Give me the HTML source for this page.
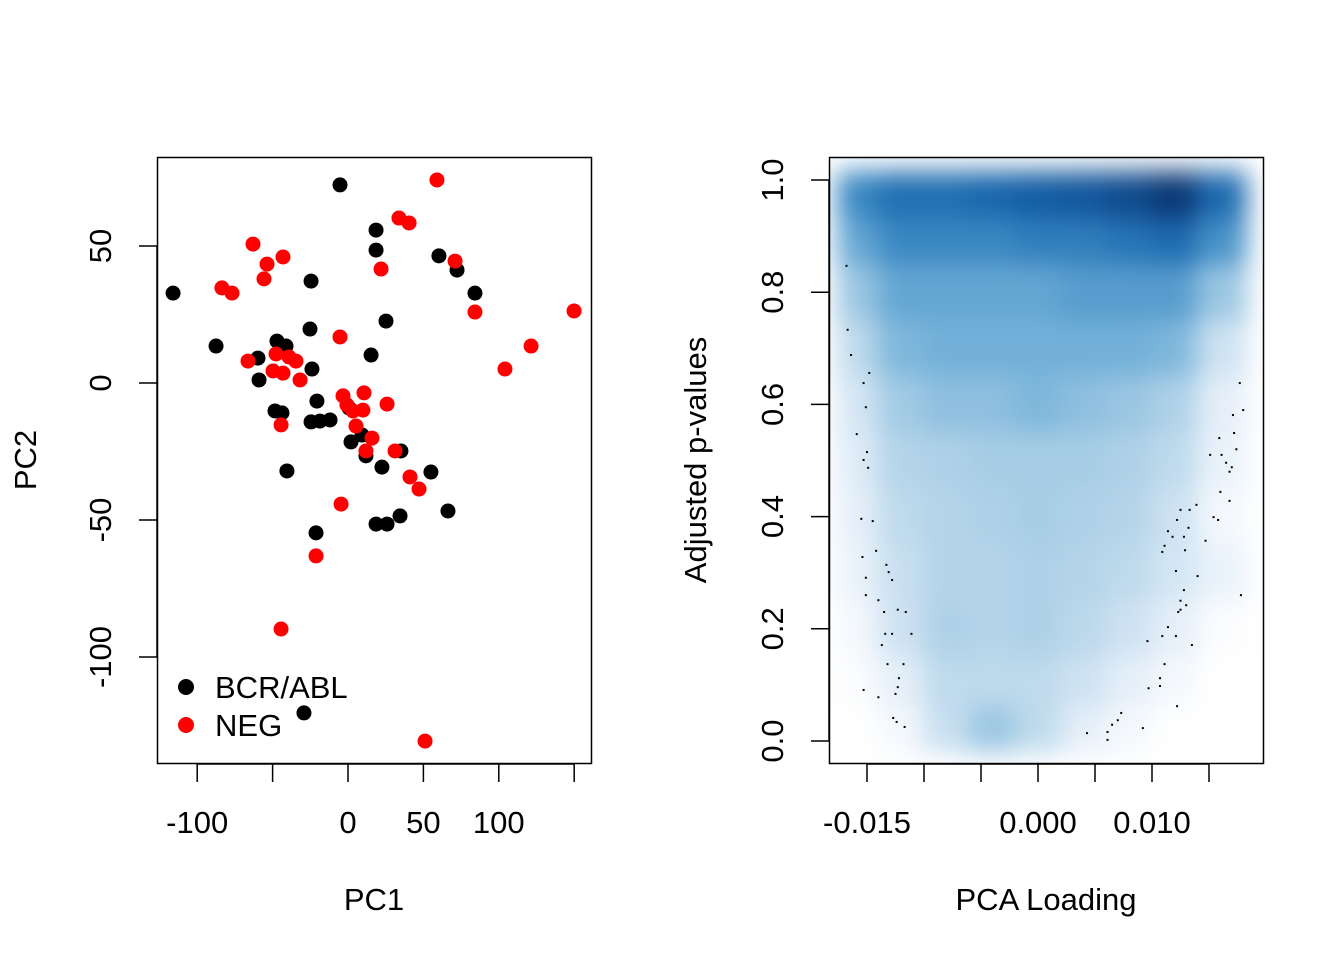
<!DOCTYPE html>
<html><head><meta charset="utf-8"><style>
html,body{margin:0;padding:0;background:#fff;}
svg{display:block;font-family:"Liberation Sans",Arial,sans-serif;}
</style></head><body>
<svg id="fig" width="1344" height="960" viewBox="0 0 1344 960" xmlns="http://www.w3.org/2000/svg">
<defs>
<clipPath id="clipR"><rect x="830" y="158" width="432" height="604"/></clipPath>
<filter id="blur" x="-20%" y="-20%" width="140%" height="140%" color-interpolation-filters="sRGB"><feGaussianBlur stdDeviation="13"/></filter>
</defs>
</svg>
<script>
// ---------- Left chart data ----------
const xTicksL = [-100,-50,0,50,100,150];
const xTickLabelsL = ["-100","","0","50","100",""];
const yTicksL = [-100,-50,0,50];
const yTickLabelsL = ["-100","-50","0","50"];
const bcrX = [-116,-5.3,18.6,18.6,60.3,72.3,84.2,-24.5,25.2,-25.2,-87.5,-47.1,-41.1,-59.7,-59,-23.9,15.3,-48.4,-43.8,-20.6,-24.5,-18.6,-11.9,0.7,2,9.3,11.9,22.5,35.1,55,-40.5,-21.2,18.6,25.9,34.5,66.3,-29.2];
const bcrY = [32.8,72.3,55.8,48.5,46.4,41.2,32.8,37.2,22.6,19.7,13.5,15.3,13.5,9.1,1.1,5.1,10.2,-10.2,-10.9,-6.6,-14.2,-13.9,-13.5,-9.1,-21.5,-19,-26.6,-30.7,-24.8,-32.5,-32.1,-54.7,-51.5,-51.5,-48.5,-46.7,-120.4];
const negX = [59,33.8,40.5,71,84.2,149.9,121.4,104.1,-63,-53.7,-43.1,-55.7,-83.6,-76.9,-5.3,21.9,-66.3,-47.7,-39.1,-34.5,-43.1,-49.7,-31.8,-3.3,10.6,-0.7,25.9,3.3,9.9,5.3,15.9,11.9,31.2,41.1,47.1,-44.4,-4.6,-21.2,-44.4,51.1];
const negY = [74.1,60.2,58.4,44.5,25.9,26.3,13.5,5.1,50.7,43.4,46,38,34.7,32.8,16.8,41.6,8,10.6,9.5,8,3.6,4.4,1.1,-4.7,-3.6,-8,-7.7,-10.2,-9.9,-15.7,-20.1,-24.8,-24.8,-34.3,-38.7,-15.3,-44.2,-63.1,-89.8,-130.7];

// ---------- Right chart data ----------
const xTicksR = [-0.015,-0.010,-0.005,0.000,0.005,0.010,0.015];
const xTickLabelsR = ["-0.015","","","0.000","","0.010",""];
const yTicksR = [0,0.2,0.4,0.6,0.8,1.0];
const yTickLabelsR = ["0.0","0.2","0.4","0.6","0.8","1.0"];
const densCols = [-0.016,-0.012,-0.008,-0.004,0,0.004,0.008,0.012,0.016];
const densRows = [0.96,0.9,0.8,0.7,0.6,0.5,0.4,0.3,0.2,0.1,0.02];
const densVals = [
 [0.65,0.78,0.78,0.82,0.86,0.88,0.92,0.98,0.8],
 [0.5,0.65,0.65,0.65,0.7,0.7,0.75,0.8,0.6],
 [0.35,0.5,0.5,0.5,0.5,0.55,0.55,0.55,0.35],
 [0.25,0.42,0.45,0.45,0.45,0.45,0.45,0.42,0.2],
 [0.18,0.33,0.38,0.38,0.42,0.38,0.35,0.3,0.12],
 [0.15,0.28,0.3,0.32,0.32,0.32,0.3,0.25,0.1],
 [0.12,0.25,0.28,0.3,0.32,0.3,0.28,0.2,0.05],
 [0.1,0.22,0.28,0.28,0.3,0.28,0.25,0.18,0.1],
 [0.05,0.2,0.3,0.28,0.3,0.26,0.2,0.12,0.02],
 [0.02,0.12,0.25,0.25,0.25,0.2,0.12,0.05,0],
 [0,0.05,0.22,0.35,0.25,0.12,0.05,0,0]
];
const outLoad = [-0.0168,-0.0167,-0.0164,-0.0153,-0.0148,-0.0151,-0.0159,-0.0150,-0.0153,-0.0149,-0.0155,-0.0145,-0.0154,-0.0142,-0.0151,-0.0133,-0.0131,-0.0128,-0.0151,-0.0140,-0.0123,-0.0116,-0.0135,-0.0134,-0.0128,-0.0111,-0.0137,-0.0132,-0.0118,-0.0122,-0.0123,-0.0125,-0.0140,-0.0153,-0.0127,-0.0124,-0.0117,
 0.0043,0.0061,0.0061,0.0065,0.0070,0.0073,0.0092,0.0097,0.0107,0.0107,0.0111,0.0122,0.0096,0.0109,0.0114,0.0121,0.0135,0.0123,0.0125,0.0130,0.0125,0.0128,0.0140,0.0121,0.0129,0.0109,0.0111,0.0118,0.0114,0.0128,0.0132,0.0122,0.0133,0.0125,0.0139,0.0147,0.0154,0.0158,0.0160,0.0168,0.0168,0.0170,0.0165,0.0161,0.0151,0.0159,0.0172,0.0174,0.0171,0.0180,0.0177,0.0178];
const outP = [0.847,0.733,0.688,0.638,0.656,0.595,0.547,0.515,0.501,0.487,0.396,0.392,0.328,0.339,0.291,0.314,0.301,0.287,0.260,0.251,0.234,0.230,0.230,0.191,0.191,0.191,0.171,0.137,0.137,0.112,0.096,0.084,0.078,0.091,0.041,0.034,0.025,
 0.014,0.016,0.002,0.029,0.037,0.050,0.023,0.094,0.098,0.112,0.137,0.062,0.178,0.187,0.203,0.187,0.171,0.230,0.234,0.242,0.250,0.269,0.294,0.303,0.340,0.337,0.348,0.364,0.374,0.364,0.380,0.394,0.412,0.412,0.421,0.357,0.399,0.394,0.444,0.428,0.480,0.488,0.496,0.510,0.510,0.540,0.549,0.520,0.581,0.590,0.638,0.260];

const NS = "http://www.w3.org/2000/svg";
const svg = document.getElementById('fig');
const FS = 31;
function mk(tag, attrs, parent){ const e=document.createElementNS(NS,tag); for(const k in attrs) e.setAttribute(k,attrs[k]); (parent||svg).appendChild(e); return e; }

// ---------- Left axes ----------
const xL = v => 348 + v*1.508;
const yL = v => 383 - v*2.74;
const gL = mk('g',{});


const boxL = mk('rect',{x:157.5,y:157.5,width:434,height:606,fill:'none',stroke:'#000','stroke-width':1.5},gL);


const axL = mk('path',{d:`M${xL(-100)} 764 H${xL(150)}`,stroke:'#000','stroke-width':1.5,fill:'none'},gL);


xTicksL.forEach((t,i)=>{
  const tk=mk('line',{x1:xL(t),x2:xL(t),y1:764,y2:782,stroke:'#000','stroke-width':1.5},gL);
  
  
  if(xTickLabelsL[i]){
    const tx=mk('text',{x:xL(t),y:833,'font-size':FS,'text-anchor':'middle'},gL); tx.textContent=xTickLabelsL[i];
    
    
  }
});
const ayL = mk('path',{d:`M157 ${yL(-100)} V${yL(50)}`,stroke:'#000','stroke-width':1.5,fill:'none'},gL);


yTicksL.forEach((t,i)=>{
  const tk=mk('line',{x1:139,x2:157,y1:yL(t),y2:yL(t),stroke:'#000','stroke-width':1.5},gL);
  
  
  const tx=mk('text',{x:111,y:yL(t),'font-size':FS,'text-anchor':'middle',transform:`rotate(-90 111 ${yL(t)})`},gL); tx.textContent=yTickLabelsL[i];
  
  
});
const tX1 = mk('text',{x:374,y:910,'font-size':FS,'text-anchor':'middle'},gL); tX1.textContent='PC1';


const tY1 = mk('text',{x:36,y:460,'font-size':FS,'text-anchor':'middle',transform:'rotate(-90 36 460)'},gL); tY1.textContent='PC2';


bcrX.forEach((v,i)=>{
  const c=mk('circle',{cx:xL(v),cy:yL(bcrY[i]),r:7.5,fill:'#000'},gL);
  
  
});
negX.forEach((v,i)=>{
  const c=mk('circle',{cx:xL(v),cy:yL(negY[i]),r:7.5,fill:'#ff0000'},gL);
  
  
});
const lg = mk('g',{},gL);


const l1=mk('circle',{cx:186,cy:687,r:8,fill:'#000'},lg);


const l1t=mk('text',{x:215,y:698,'font-size':FS},lg); l1t.textContent='BCR/ABL';


const l2=mk('circle',{cx:186,cy:725,r:8,fill:'#ff0000'},lg);


const l2t=mk('text',{x:215,y:736,'font-size':FS},lg); l2t.textContent='NEG';



// ---------- Right axes ----------
const xR = v => 1038 + v*11400;
const yR = v => 741 - v*561;
const gR = mk('g',{});


const stops=[[0,[255,255,255]],[0.15,[222,235,247]],[0.3,[174,209,231]],[0.45,[114,176,216]],[0.65,[58,136,194]],[0.85,[20,96,168]],[1,[8,48,107]]];
function col(t){
  t=Math.max(0,Math.min(1,t));
  for(let i=1;i<stops.length;i++){ if(t<=stops[i][0]){ const a=stops[i-1],b=stops[i]; const f=(t-a[0])/(b[0]-a[0]);
    return `rgb(${a[1].map((c,j)=>Math.round(c+(b[1][j]-c)*f)).join(',')})`; } }
  return 'rgb(8,48,107)';
}
const hc = mk('g',{'clip-path':'url(#clipR)'},gR);


const hb = mk('g',{filter:'url(#blur)'},hc);
mk('rect',{x:790,y:120,width:520,height:700,fill:'#fff'},hb);
const colEdges = densCols.map((c,i)=> i===0 ? -0.0176 : (densCols[i-1]+c)/2).concat([0.0183]);
const rowEdges = densRows.map((r,i)=> i===0 ? 1.015 : (densRows[i-1]+r)/2).concat([-0.02]);
densRows.forEach((r,ri)=>{
  densCols.forEach((c,ci)=>{
    const x0=xR(colEdges[ci]), x1=xR(colEdges[ci+1]);
    const y0=yR(rowEdges[ri]), y1=yR(rowEdges[ri+1]);
    const cell=mk('rect',{x:x0-0.5,y:y0-0.5,width:x1-x0+1,height:y1-y0+1,fill:col(densVals[ri][ci])},hb);
    
    
  });
});
outLoad.forEach((v,i)=>{
  const p=mk('rect',{x:xR(v)-1,y:yR(outP[i])-1,width:2,height:2,fill:'#000'},gR);
  
  
});
const boxR = mk('rect',{x:829.5,y:157.5,width:434,height:606,fill:'none',stroke:'#000','stroke-width':1.5},gR);


const axR = mk('path',{d:`M${xR(-0.015)} 764 H${xR(0.015)}`,stroke:'#000','stroke-width':1.5,fill:'none'},gR);


xTicksR.forEach((t,i)=>{
  const tk=mk('line',{x1:xR(t),x2:xR(t),y1:764,y2:782,stroke:'#000','stroke-width':1.5},gR);
  
  
  if(xTickLabelsR[i]){
    const tx=mk('text',{x:xR(t),y:833,'font-size':FS,'text-anchor':'middle'},gR); tx.textContent=xTickLabelsR[i];
    
    
  }
});
const ayR = mk('path',{d:`M829 ${yR(0)} V${yR(1)}`,stroke:'#000','stroke-width':1.5,fill:'none'},gR);


yTicksR.forEach((t,i)=>{
  const tk=mk('line',{x1:811,x2:829,y1:yR(t),y2:yR(t),stroke:'#000','stroke-width':1.5},gR);
  
  
  const tx=mk('text',{x:783,y:yR(t),'font-size':FS,'text-anchor':'middle',transform:`rotate(-90 783 ${yR(t)})`},gR); tx.textContent=yTickLabelsR[i];
  
  
});
const tX2 = mk('text',{x:1046,y:910,'font-size':FS,'text-anchor':'middle'},gR); tX2.textContent='PCA Loading';


const tY2 = mk('text',{x:706,y:460,'font-size':FS,'text-anchor':'middle',transform:'rotate(-90 706 460)'},gR); tY2.textContent='Adjusted p-values';


</script>
</body></html>
